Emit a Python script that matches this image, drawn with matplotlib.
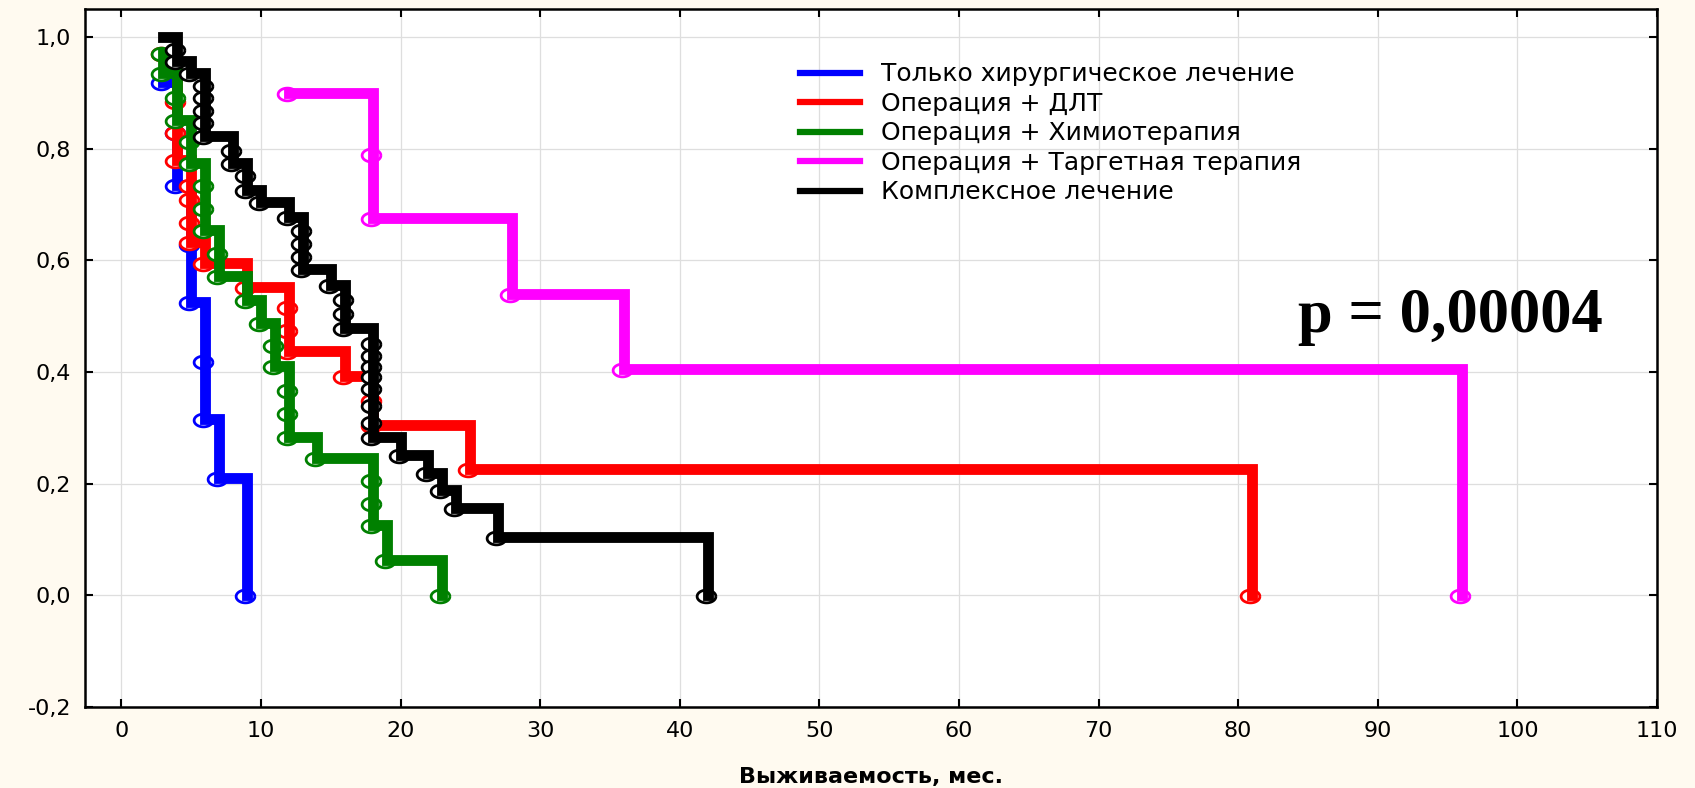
import matplotlib
matplotlib.use("Agg")
import matplotlib.pyplot as plt
from matplotlib.path import Path
from matplotlib.transforms import ScaledTranslation
from matplotlib.ticker import FuncFormatter
import numpy as np

# survival curves: time (months) and survival after each step
blue_t = [3, 4, 4, 5, 5, 6, 6, 7, 9]
blue_s = [0.92, 0.83, 0.735, 0.63, 0.525, 0.42, 0.315, 0.21, 0.0]

red_t = [3, 4, 4, 4, 5, 5, 5, 5, 6, 9, 12, 12, 12, 16, 18, 18, 25, 81]
red_s = [0.971, 0.886, 0.829, 0.78, 0.735, 0.71, 0.669, 0.633, 0.595, 0.553,
         0.517, 0.475, 0.437, 0.392, 0.35, 0.305, 0.227, 0.0]

green_t = [3, 3, 4, 4, 5, 5, 6, 6, 6, 7, 7, 9, 10, 11, 11, 12, 12, 12, 14,
           18, 18, 18, 19, 23]
green_s = [0.971, 0.935, 0.893, 0.851, 0.813, 0.774, 0.735, 0.693, 0.654,
           0.613, 0.571, 0.529, 0.488, 0.449, 0.41, 0.368, 0.327, 0.284,
           0.246, 0.207, 0.165, 0.126, 0.064, 0.0]

mag_t = [12, 18, 18, 28, 36, 96]
mag_s = [0.90, 0.79, 0.675, 0.54, 0.405, 0.0]

black_t = [3, 4, 4, 5, 6, 6, 6, 6, 6, 8, 8, 9, 9, 10, 12, 13, 13, 13, 13, 15,
           16, 16, 16, 18, 18, 18, 18, 18, 18, 18, 18, 20, 22, 23, 24, 27, 42]
black_s = [1.0, 0.978, 0.956, 0.935, 0.914, 0.893, 0.869, 0.848, 0.822,
           0.798, 0.774, 0.753, 0.726, 0.705, 0.678, 0.655, 0.631, 0.607,
           0.584, 0.556, 0.531, 0.506, 0.479, 0.452, 0.431, 0.41, 0.392,
           0.372, 0.341, 0.311, 0.284, 0.252, 0.219, 0.189, 0.157, 0.104, 0.0]

labels = ["Только хирургическое лечение", "Операция + ДЛТ",
          "Операция + Химиотерапия", "Операция + Таргетная терапия",
          "Комплексное лечение"]
colors = ["#0000ff", "#ff0000", "#008000", "#ff00ff", "#000000"]
curves = [(blue_t, blue_s), (red_t, red_s), (green_t, green_s),
          (mag_t, mag_s), (black_t, black_s)]

plt.rcParams['font.family'] = ['DejaVu Sans']

fig = plt.figure(figsize=(16.95, 7.88), dpi=100, facecolor="#fffaf0")
ax = fig.add_axes([85/1695, 1-707/788, (1657-85)/1695, (707-9)/788])
ax.set_facecolor("white")

# flattened ellipse marker like the original
th = np.linspace(0, 2*np.pi, 60)
ell = Path(np.column_stack([np.cos(th), 0.68*np.sin(th)]))
shift = ax.transData + ScaledTranslation(-2/100, -1/100, fig.dpi_scale_trans)

for i, ((t, s), c) in enumerate(zip(curves, colors)):
    ax.step(t, s, where='post', color=c, lw=7.8, solid_capstyle='projecting',
            solid_joinstyle='miter', zorder=3+2*i, label=labels[i])
    mt = [a for a, b in zip(t, s) if b < 1.0]
    ms = [b for b in s if b < 1.0]
    ax.plot(mt, ms, ls='none', marker=ell, ms=13.5, mfc='white', mec=c,
            mew=2.0, zorder=2+2*i, transform=shift)

ax.set_xlim(-2.6, 110)
ax.set_ylim(-0.2, 1.05)
ax.set_xticks(range(0, 111, 10))
ax.set_yticks([-0.2, 0, 0.2, 0.4, 0.6, 0.8, 1.0])
ax.yaxis.set_major_formatter(FuncFormatter(
    lambda v, p: ("%.1f" % (0 if abs(v) < 1e-9 else v)).replace('.', ',')))
ax.grid(True, color="#dedede", lw=0.9, zorder=0)
ax.tick_params(direction='in', length=6, width=1.5, top=True, right=True,
               labelsize=16, pad=10)
for sp in ax.spines.values():
    sp.set_linewidth(1.8)

ax.set_xlabel("Выживаемость, мес.", fontsize=16, fontweight='bold', labelpad=19)

leg = ax.legend(loc='upper left', bbox_to_anchor=(800/1695, 0.921),
                bbox_transform=fig.transFigure, frameon=False, fontsize=18,
                borderpad=0, borderaxespad=0, handlelength=2.4,
                handletextpad=0.85, labelspacing=0.22)
for h in leg.get_lines():
    h.set_linewidth(4.5)

fig.text(1450/1695, 1-332/788, "p = 0,00004", ha='center', va='baseline',
         family='Liberation Serif', fontweight='bold', fontsize=45)

fig.savefig("out.png", dpi=100, facecolor=fig.get_facecolor())
